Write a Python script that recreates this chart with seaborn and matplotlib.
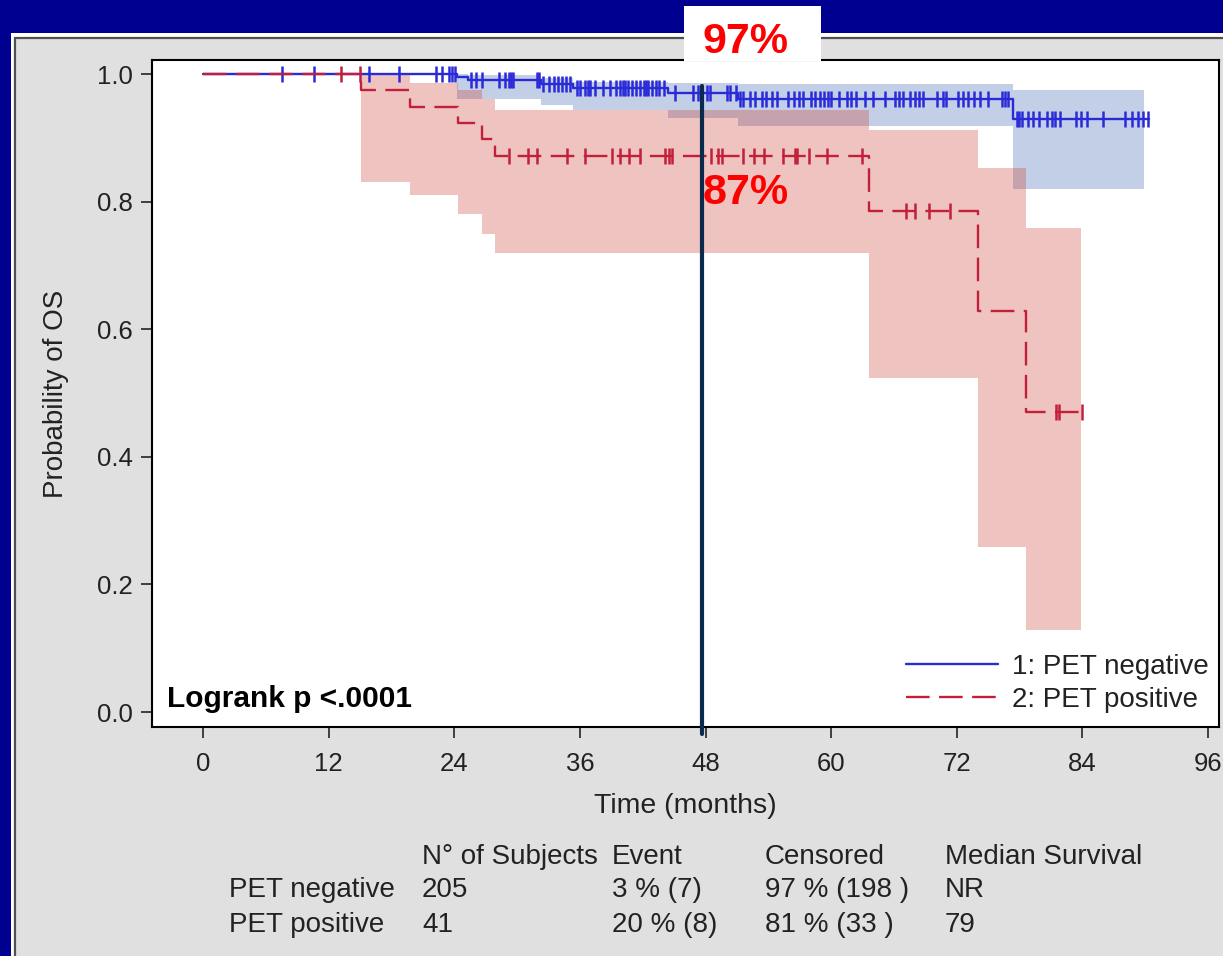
import numpy as np
import matplotlib
matplotlib.use("Agg")
import matplotlib.pyplot as plt
from matplotlib.patches import Rectangle
from matplotlib.lines import Line2D
import seaborn as sns

# ---------------- data ----------------
# Kaplan-Meier step curves: time (months) and survival probability
neg_time = [0, 24.3, 25.3, 32.3, 35.3, 44.4, 51.1, 77.4, 90.4]
neg_surv = [1.0, 0.995, 0.990, 0.984, 0.978, 0.970, 0.961, 0.930, 0.930]
pos_time = [0, 15.1, 19.8, 24.4, 26.6, 27.9, 63.6, 74.0, 78.6, 84.1]
pos_surv = [1.0, 0.975, 0.949, 0.923, 0.898, 0.872, 0.785, 0.628, 0.471, 0.471]

# pointwise confidence bands (step functions)
neg_band_time = [24.3, 25.3, 32.3, 35.3, 44.4, 51.1, 77.4, 89.9]
neg_band_upper = [1.0, 0.998, 0.994, 0.988, 0.986, 0.984, 0.975, 0.975]
neg_band_lower = [0.961, 0.961, 0.951, 0.944, 0.931, 0.918, 0.820, 0.820]
pos_band_time = [15.1, 19.8, 24.4, 26.6, 27.9, 63.6, 74.0, 78.6, 83.9]
pos_band_upper = [1.0, 0.986, 0.975, 0.961, 0.944, 0.912, 0.853, 0.759, 0.759]
pos_band_lower = [0.831, 0.810, 0.780, 0.750, 0.720, 0.524, 0.259, 0.129, 0.129]

# censoring times (months)
neg_censor = [7.5, 10.6, 15.9, 18.7, 22.3, 22.8, 23.5, 23.8, 24.1,
              25.6, 26.1, 26.6, 28.3, 28.8, 29.2, 29.4, 29.6, 31.9, 32.1,
              32.5, 33.0, 33.5, 33.9, 34.3, 34.7, 35.1,
              35.7, 36.0, 36.5, 36.8, 37.0, 37.4, 38.2, 38.9, 39.4, 39.8,
              40.1, 40.3, 40.6, 41.0, 41.4, 41.7, 42.1, 42.3, 42.5, 42.9,
              43.3, 43.6, 44.0,
              45.1, 46.8, 47.3, 48.1, 48.4, 50.0, 50.3, 50.9,
              51.3, 51.6, 52.2, 52.7, 53.4, 53.8, 54.3, 54.8, 55.9, 56.4,
              56.9, 57.3, 58.1, 58.5, 58.9, 59.3, 59.7, 60.0, 60.7, 61.5,
              61.9, 62.4, 63.2, 64.0, 65.1, 66.1, 66.5, 66.9, 67.5, 68.0,
              68.4, 68.8, 70.1, 70.7, 71.0, 72.1, 72.6, 73.1, 73.6, 74.2,
              75.0, 76.3, 76.6, 76.9,
              77.7, 77.9, 78.2, 78.8, 79.3, 79.8, 80.6, 81.1, 81.4, 81.9,
              83.4, 83.9, 84.4, 86.0, 88.1, 88.7, 89.3, 89.8, 90.3]
pos_censor = [13.2, 15.0, 29.2, 31.0, 31.9, 34.8, 36.5, 39.1, 39.8, 40.7,
              41.7, 44.1, 44.5, 44.8, 48.5, 49.2, 49.6, 51.6, 52.6, 53.6,
              55.4, 56.5, 56.7, 57.9, 59.6, 62.9, 67.1, 68.0, 69.3, 71.3,
              81.5, 81.8, 84.0]

group_labels = ["1: PET negative", "2: PET positive"]
x_ticks = [0, 12, 24, 36, 48, 60, 72, 84, 96]
y_ticks = [0.0, 0.2, 0.4, 0.6, 0.8, 1.0]

landmark_month = 47.7
landmark_labels = ["97%", "87%"]

table_header = ["N\u00b0 of Subjects", "Event", "Censored", "Median Survival"]
table_groups = ["PET negative", "PET positive"]
n_subjects = ["205", "41"]
n_events = ["3 % (7)", "20 % (8)"]
n_censored = ["97 % (198 )", "81 % (33 )"]
median_surv = ["NR", "79"]

# ---------------- style ----------------
sns.set_style("white")
plt.rcParams["font.family"] = ["Liberation Sans", "DejaVu Sans"]

W, H = 1223, 956
NAVY = "#000090"
PANEL = "#e0e0e0"
TXT = "#222222"
BLUE_LINE = "#2a2ad8"
RED_LINE = "#c21f3a"
BLUE_FILL = "#3a62b2"
RED_FILL = "#cd3a2d"

fig = plt.figure(figsize=(W / 100, H / 100), dpi=100, facecolor=NAVY)


def fx(px):
    return px / W


def fy(py):
    return 1 - py / H


# slide panel behind everything
fig.patches.append(Rectangle((fx(11), fy(H + 5)), fx(W + 10 - 11), fy(33) - fy(H + 5),
                             transform=fig.transFigure, facecolor="white",
                             edgecolor="none", zorder=-3))
fig.patches.append(Rectangle((fx(14.5), fy(H + 5)), fx(W + 10 - 14.5), fy(38) - fy(H + 5),
                             transform=fig.transFigure, facecolor=PANEL,
                             edgecolor="#505050", linewidth=1.6, zorder=-2))

# plot area
ax_l, ax_r, ax_t, ax_b = 152, 1219, 60, 727
ax = fig.add_axes([fx(ax_l), fy(ax_b), fx(ax_r - ax_l), fy(ax_t) - fy(ax_b)])
ax.set_zorder(1)
ax.set_facecolor("white")
px_per_month = 10.47
x0_px = 203
ax.set_xlim(-(x0_px - ax_l) / px_per_month, (ax_r - x0_px) / px_per_month)
y1_px, y0_px = 74, 712
ax.set_ylim((y0_px - ax_b) / (y0_px - y1_px), (y0_px - ax_t) / (y0_px - y1_px))

# confidence bands
ax.fill_between(neg_band_time, neg_band_lower, neg_band_upper, step="post",
                color=BLUE_FILL, alpha=0.3, linewidth=0, zorder=1)
ax.fill_between(pos_band_time, pos_band_lower, pos_band_upper, step="post",
                color=RED_FILL, alpha=0.3, linewidth=0, zorder=1)

# survival curves
sns.lineplot(x=neg_time, y=neg_surv, ax=ax, color=BLUE_LINE, linewidth=1.7,
             drawstyle="steps-post", estimator=None, sort=False, zorder=3)
sns.lineplot(x=pos_time, y=pos_surv, ax=ax, color=RED_LINE, linewidth=1.7,
             drawstyle="steps-post", estimator=None, sort=False, zorder=4)
red_dashes = (10, 4)
ax.lines[-1].set_dashes(red_dashes)


def level_at(times, surv, t):
    idx = np.searchsorted(times, t, side="right") - 1
    return np.asarray(surv)[idx]


ax.plot(neg_censor, level_at(neg_time, neg_surv, neg_censor), ls="none",
        marker="|", markersize=11, mew=1.8, color=BLUE_LINE, zorder=3)
ax.plot(pos_censor, level_at(pos_time, pos_surv, pos_censor), ls="none",
        marker="|", markersize=11, mew=1.8, color=RED_LINE, zorder=4)

# axes styling
ax.set_xticks(x_ticks)
ax.set_yticks(y_ticks)
ax.set_yticklabels([f"{v:.1f}" for v in y_ticks])
ax.tick_params(axis="both", direction="out", length=8, width=1.3, color="#333333",
               labelsize=18.5, labelcolor=TXT, left=True, bottom=True)
ax.tick_params(axis="x", pad=10)
ax.tick_params(axis="y", pad=6)
for s in ax.spines.values():
    s.set_color("black")
    s.set_linewidth(1.5)
ax.set_xlabel("Time (months)", fontsize=20.5, color=TXT, labelpad=12)
ax.set_ylabel("Probability of OS", fontsize=20, color=TXT, labelpad=20)

# legend
handles = [Line2D([], [], color=BLUE_LINE, lw=1.7),
           Line2D([], [], color=RED_LINE, lw=1.7, dashes=red_dashes)]
ax.legend(handles, group_labels, loc="upper left",
          bbox_to_anchor=(fx(906), fy(654)), bbox_transform=fig.transFigure,
          frameon=False, fontsize=20, handlelength=3.3, handletextpad=0.5,
          labelspacing=0.25, borderpad=0, borderaxespad=0, labelcolor=TXT)

ax.text(fx(167), fy(699), "Logrank p <.0001", transform=fig.transFigure,
        fontsize=21.5, fontweight="bold", color="black", va="center", ha="left")

# landmark line at 48 months
ax.plot([landmark_month, landmark_month], [(y0_px - 86) / 638, (y0_px - 734) / 638],
        color="#0c2a4e", linewidth=3, clip_on=False, zorder=6)

fig.patches.append(Rectangle((fx(684), fy(61)), fx(821 - 684), fy(6) - fy(61),
                             transform=fig.transFigure, facecolor="white",
                             edgecolor="none", zorder=5))
fig.text(fx(746), fy(42), landmark_labels[0], fontsize=31, fontweight="bold",
         color="#ff0000", ha="center", va="center", zorder=7)
fig.text(fx(746), fy(193), landmark_labels[1], fontsize=31, fontweight="bold",
         color="#ff0000", ha="center", va="center", zorder=7)

# summary table
col_x = [422, 612, 765, 945]
row_y = [857, 890, 925]
for x, h in zip(col_x, table_header):
    fig.text(fx(x), fy(row_y[0]), h, fontsize=20, color=TXT, va="center", ha="left")
for i, g in enumerate(table_groups):
    y = row_y[i + 1]
    fig.text(fx(229), fy(y), g, fontsize=20, color=TXT, va="center", ha="left")
    for x, v in zip(col_x, [n_subjects[i], n_events[i], n_censored[i], median_surv[i]]):
        fig.text(fx(x), fy(y), v, fontsize=20, color=TXT, va="center", ha="left")

fig.savefig("out.png", dpi=100, facecolor=NAVY)
